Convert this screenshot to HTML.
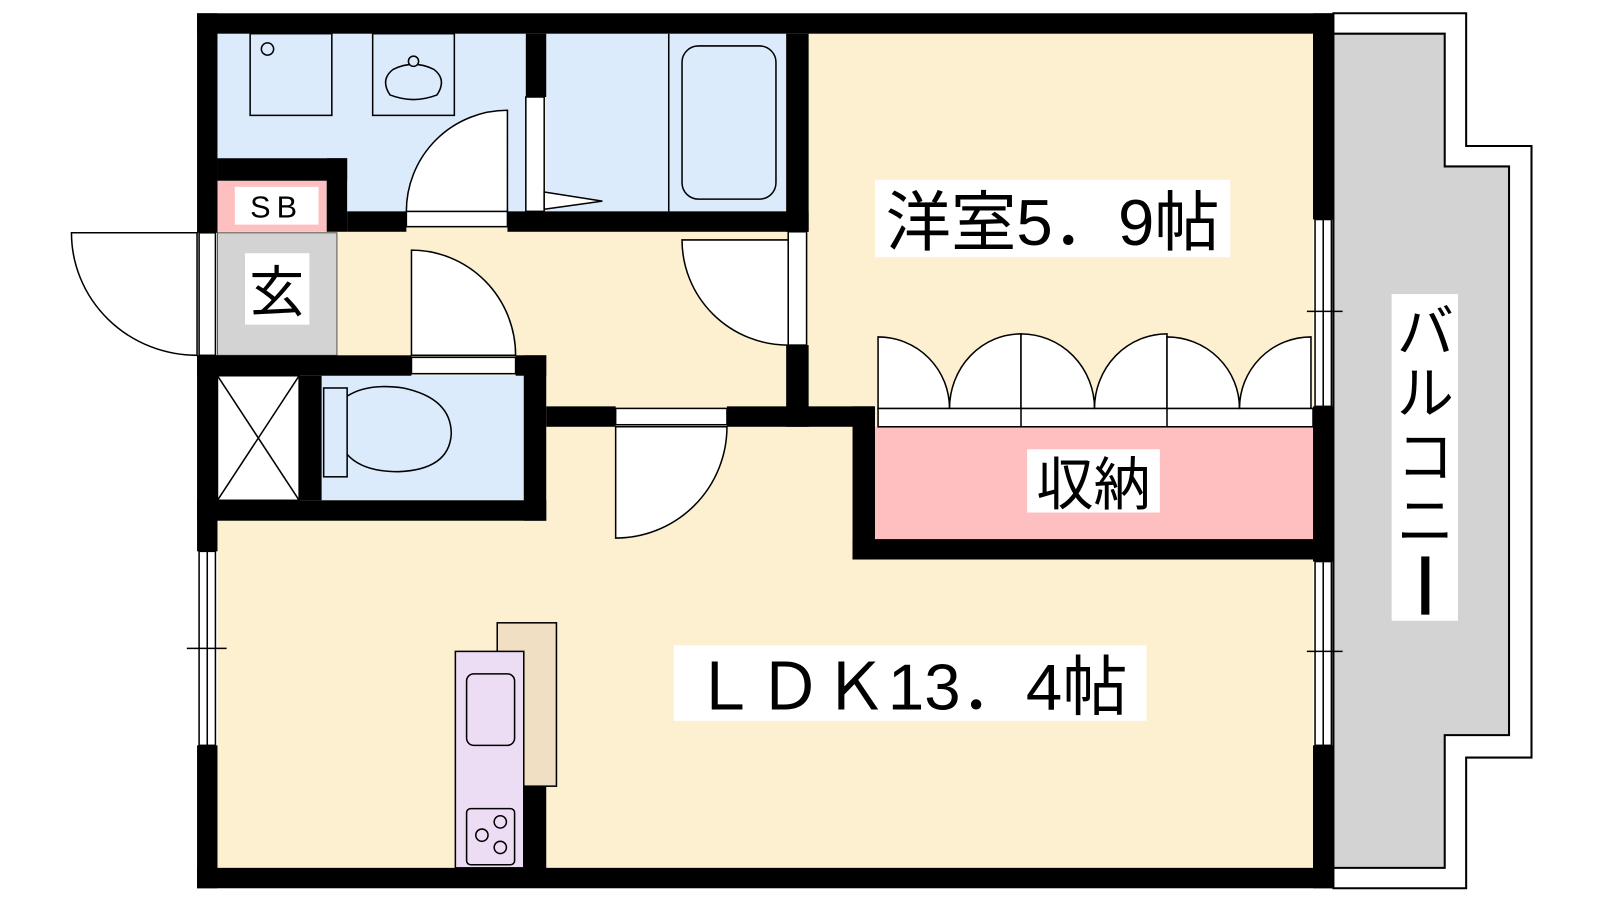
<!DOCTYPE html>
<html><head><meta charset="utf-8"><style>
html,body{margin:0;padding:0;background:#fff;width:1600px;height:900px;overflow:hidden}
svg{display:block}
text{font-family:"Liberation Sans","Noto Sans CJK JP",sans-serif;fill:#000}
</style></head><body>
<svg width="1600" height="900" viewBox="0 0 1600 900" xmlns="http://www.w3.org/2000/svg">
<g transform="scale(1.021)">
<!-- balcony -->
<polygon points="1306,13 1436,13 1436,143 1500,143 1500,742 1436,742 1436,870 1306,870" fill="#fff" stroke="#000" stroke-width="2"/>
<polygon points="1306,33 1415,33 1415,163 1478,163 1478,720 1415,720 1415,850 1306,850" fill="#d3d3d3" stroke="#000" stroke-width="2"/>
<!-- floors -->
<rect x="213" y="33" width="1073" height="817" fill="#fdf0d0"/>
<rect x="213" y="33" width="302" height="174" fill="#dcebfc"/>
<rect x="535" y="33" width="235" height="174" fill="#dcebfc"/>
<rect x="213" y="228" width="117" height="120" fill="#d3d3d3" stroke="#555" stroke-width="1"/>
<rect x="213" y="177" width="107" height="50" fill="#fdbfbf"/>
<rect x="315" y="368" width="198" height="122" fill="#dcebfc"/>
<rect x="213" y="368" width="80" height="122" fill="#fff" stroke="#000" stroke-width="1.5"/>
<line x1="213" y1="368" x2="293" y2="490" stroke="#000" stroke-width="1.5"/>
<line x1="293" y1="368" x2="213" y2="490" stroke="#000" stroke-width="1.5"/>
<rect x="857" y="418" width="429" height="110" fill="#fdbfbf"/>
<!-- walls -->
<g fill="#000">
<rect x="193" y="13" width="1113" height="20"/>
<rect x="193" y="850" width="1113" height="20"/>
<rect x="193" y="13" width="20" height="215"/>
<rect x="193" y="348" width="20" height="192"/>
<rect x="193" y="730" width="20" height="140"/>
<rect x="1286" y="13" width="20" height="202"/>
<rect x="1286" y="398" width="20" height="152"/>
<rect x="1286" y="730" width="20" height="140"/>
<rect x="515" y="33" width="20" height="62"/>
<rect x="340" y="207" width="58" height="20"/>
<rect x="497" y="207" width="295" height="20"/>
<rect x="213" y="155" width="127" height="22"/>
<rect x="320" y="155" width="20" height="72"/>
<rect x="770" y="33" width="22" height="194"/>
<rect x="770" y="338" width="22" height="80"/>
<rect x="193" y="348" width="210" height="20"/>
<rect x="505" y="348" width="30" height="20"/>
<rect x="293" y="368" width="22" height="122"/>
<rect x="513" y="348" width="22" height="162"/>
<rect x="193" y="490" width="342" height="20"/>
<rect x="535" y="398" width="68" height="20"/>
<rect x="712" y="398" width="145" height="20"/>
<rect x="835" y="398" width="22" height="150"/>
<rect x="835" y="528" width="471" height="20"/>
<rect x="513" y="770" width="22" height="90"/>
</g>
<!-- openings -->
<g fill="#fff" stroke="#000" stroke-width="1.5">
<rect x="515" y="95" width="18" height="112"/>
<rect x="398" y="207" width="99" height="15"/>
<rect x="195" y="228" width="16" height="120"/>
<rect x="772" y="227" width="18" height="111"/>
<rect x="403" y="350" width="102" height="16"/>
<rect x="603" y="400" width="109" height="16"/>
<rect x="860" y="400" width="426" height="18"/>
<rect x="195" y="540" width="16" height="190"/>
<rect x="1288" y="215" width="16" height="183"/>
<rect x="1288" y="550" width="16" height="180"/>
</g>
<g stroke="#000" stroke-width="1.5">
<line x1="203" y1="540" x2="203" y2="730"/><line x1="183" y1="635" x2="222" y2="635"/>
<line x1="1296" y1="215" x2="1296" y2="398"/><line x1="1280" y1="305" x2="1315" y2="305"/>
<line x1="1296" y1="550" x2="1296" y2="730"/><line x1="1280" y1="638" x2="1315" y2="638"/>
<line x1="1000" y1="400" x2="1000" y2="418"/><line x1="1143" y1="400" x2="1143" y2="418"/>
</g>
<!-- doors -->
<g fill="#fff" stroke="#000" stroke-width="1.5">
<path d="M193,228 L70,228 A123,120 0 0 0 193,348 Z"/>
<path d="M497,207 L497,108 A99,99 0 0 0 398,207 Z"/>
<path d="M403,348 L403,245 A102,103 0 0 1 505,348 Z"/>
<path d="M772,235 L668,235 A104,103 0 0 0 772,338 Z"/>
<path d="M603,418 L603,527 A109,109 0 0 0 712,418 Z"/>
<path d="M860,400 L860,330 A70,70 0 0 1 930,400 Z"/>
<path d="M1000,400 L1000,327 A70,73 0 0 0 930,400 Z"/>
<path d="M1000,400 L1000,327 A72,73 0 0 1 1072,400 Z"/>
<path d="M1143,400 L1143,327 A71,73 0 0 0 1072,400 Z"/>
<path d="M1143,400 L1143,330 A71,70 0 0 1 1214,400 Z"/>
<path d="M1284,400 L1284,330 A70,70 0 0 0 1214,400 Z"/>
<path d="M533,188 L590,197 L533,205 Z"/>
</g>
<!-- fixtures -->
<g fill="none" stroke="#000" stroke-width="1.5">
<rect x="245" y="33" width="80" height="80"/>
<circle cx="262" cy="48" r="6"/>
<rect x="365" y="33" width="80" height="80"/>
<path d="M385,68 Q405,58 425,68 Q438,78 428,93 Q405,102 382,93 Q372,78 385,68 Z"/>
<circle cx="405" cy="60" r="5" fill="#dcebfc"/>
<line x1="655" y1="33" x2="655" y2="207"/>
<rect x="668" y="45" width="92" height="150" rx="16"/>
<rect x="317" y="380" width="23" height="87"/>
<path d="M340,388 Q360,375 395,380 Q442,390 442,425 Q440,460 390,462 Q355,462 340,445"/>
</g>
<!-- kitchen -->
<rect x="487" y="610" width="58" height="160" fill="#f0dfc3" stroke="#000" stroke-width="1.5"/>
<rect x="446" y="638" width="67" height="212" fill="#ecdcf4" stroke="#000" stroke-width="1.5"/>
<rect x="457" y="660" width="47" height="70" rx="7" fill="none" stroke="#000" stroke-width="1.5"/>
<rect x="457" y="792" width="47" height="55" rx="4" fill="none" stroke="#000" stroke-width="1.5"/>
<g fill="none" stroke="#000" stroke-width="1.5">
<circle cx="472" cy="818" r="6"/><circle cx="490" cy="805" r="6"/><circle cx="490" cy="830" r="6"/>
</g>
<!-- labels -->
<rect x="230" y="183" width="82" height="37" fill="#fff"/>
<text x="271" y="213" font-size="30" text-anchor="middle" letter-spacing="6">SB</text>
<rect x="240" y="248" width="63" height="70" fill="#fff"/>
<text x="271" y="305" font-size="54" text-anchor="middle">玄</text>
<rect x="857" y="176" width="348" height="76" fill="#fff"/>
<text x="1031" y="240" font-size="64" text-anchor="middle">洋室5．9帖</text>
<rect x="1006" y="440" width="130" height="62" fill="#fff"/>
<text x="1071" y="494" font-size="56" text-anchor="middle">収納</text>
<rect x="660" y="632" width="463" height="74" fill="#fff"/>
<text x="891" y="695" font-size="64" text-anchor="middle">ＬＤＫ13．4帖</text>
<rect x="1363" y="288" width="65" height="320" fill="#fff"/>
<text x="1396" y="345" font-size="56" text-anchor="middle">バ</text>
<text x="1396" y="405" font-size="56" text-anchor="middle">ル</text>
<text x="1396" y="467" font-size="56" text-anchor="middle">コ</text>
<text x="1396" y="530" font-size="56" text-anchor="middle">ニ</text>
<rect x="1392" y="545" width="8" height="57" fill="#000"/>
</g>
</svg>
</body></html>
